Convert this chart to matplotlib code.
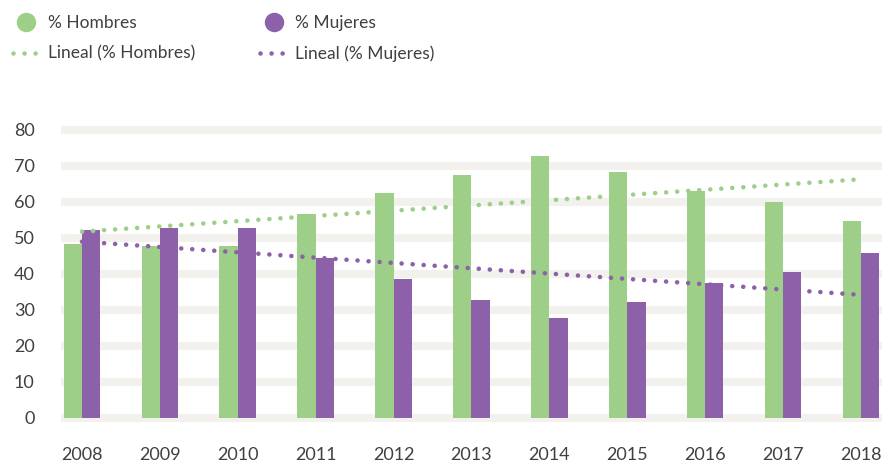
import numpy as np
import matplotlib.pyplot as plt
from matplotlib.lines import Line2D

plt.rcParams['font.family'] = ['Lato', 'DejaVu Sans']

years = ["2008", "2009", "2010", "2011", "2012", "2013", "2014", "2015", "2016", "2017", "2018"]
hombres = [48.2, 47.8, 47.6, 56.6, 62.5, 67.4, 72.7, 68.2, 63.0, 59.9, 54.6]
mujeres = [52.1, 52.8, 52.7, 44.4, 38.5, 32.7, 27.7, 32.1, 37.4, 40.5, 45.7]

GREEN = "#9ecf88"
PURPLE = "#8c61a9"
TEXT = "#404040"
BAND = "#f2f1ed"


def main():
    fig = plt.figure(figsize=(8.89, 4.65), dpi=100)
    ax = fig.add_axes([0.0686, 0.0901, 0.9234, 0.6426])

    x = np.arange(len(years))
    w = 0.235
    ax.bar(x - w / 2, hombres, width=w, color=GREEN, zorder=2)
    ax.bar(x + w / 2, mujeres, width=w, color=PURPLE, zorder=2)

    # linear trend lines, like the spreadsheet's "Lineal"
    for vals, col in ((hombres, GREEN), (mujeres, PURPLE)):
        k, b = np.polyfit(x, vals, 1)
        ax.plot(x, k * x + b, color=col, lw=3.3, linestyle=(0, (0.01, 2.4)),
                dash_capstyle="round", zorder=3)

    ax.set_xlim(-0.27, len(years) - 1 + 0.27)
    ax.set_ylim(-1.5, 81.5)
    ax.set_yticks(range(0, 81, 10))
    ax.set_xticks(x)
    ax.set_xticklabels(years)
    ax.yaxis.grid(True, color=BAND, linewidth=5.8)
    ax.set_axisbelow(True)
    for s in ax.spines.values():
        s.set_visible(False)
    ax.tick_params(axis="both", length=0, labelsize=13, labelcolor=TEXT)
    ax.tick_params(axis="x", pad=17)
    ax.tick_params(axis="y", pad=19)

    handles = [
        Line2D([], [], marker="o", linestyle="none", markersize=13, color=GREEN),
        Line2D([], [], color=GREEN, lw=3.3, linestyle=(0, (0.01, 2.4)), dash_capstyle="round"),
        Line2D([], [], marker="o", linestyle="none", markersize=13, color=PURPLE),
        Line2D([], [], color=PURPLE, lw=3.3, linestyle=(0, (0.01, 2.4)), dash_capstyle="round"),
    ]
    labels = ["% Hombres", "Lineal (% Hombres)", "% Mujeres", "Lineal (% Mujeres)"]
    leg = fig.legend(handles, labels, loc="upper left", bbox_to_anchor=(0.0, 0.995),
                     ncol=2, frameon=False, fontsize=12.5, handlelength=1.55,
                     handletextpad=0.45, columnspacing=3.75, labelspacing=0.82,
                     borderaxespad=0.35)
    for t in leg.get_texts():
        t.set_color(TEXT)

    fig.savefig("out.png", dpi=100)


if __name__ == "__main__":
    main()
